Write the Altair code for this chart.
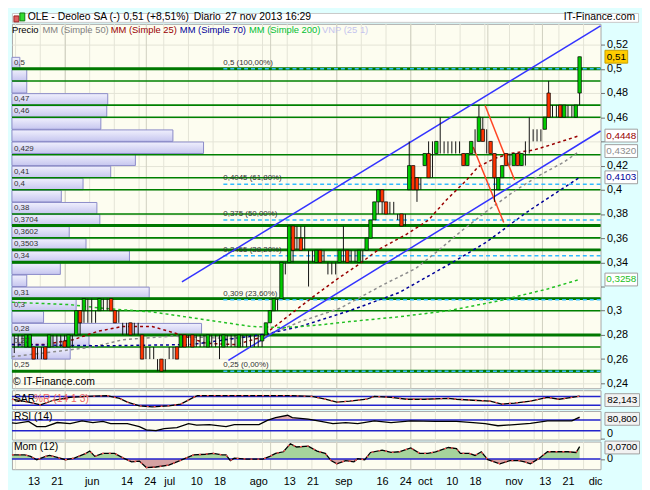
import altair as alt
import pandas as pd

FONT = "Liberation Sans"
W = 596
HEAD_W = 634
H_HEAD, H_MAIN, H_SAR, H_RSI, H_MOM = 9, 369, 19, 29, 28
X_DOMAIN = [-5.6, 146.4]
PRICE_DOMAIN = [0.2359, 0.5372]
SAR_DOMAIN = [-6, 123]
RSI_DOMAIN = [-2.5, 104]
MOM_DOMAIN = [-0.0576, 0.0985]

BG = "#e0ffff"
PLOT_BG = "#fdfdf0"
GRID = "#e4e4d6"
GRID_DARK = "#cfcfc0"
BORDER = "#a8a8a8"

# ---------------- candles (trading-day index, 0 = 13 May 2013) ----------------
days = list(range(-5, 142))
opens = [
    0.275, 0.275, 0.275, 0.27, 0.27, 0.27, 0.265, 0.265, 0.27, 0.27,
    0.275, 0.275, 0.275, 0.275, 0.27, 0.28, 0.28, 0.30, 0.30, 0.305,
    0.30, 0.295, 0.30, 0.305, 0.305, 0.31, 0.30, 0.29, 0.285, 0.285,
    0.29, 0.285, 0.285, 0.28, 0.265, 0.265, 0.265, 0.255, 0.26, 0.255,
    0.265, 0.265, 0.27, 0.27, 0.28, 0.275, 0.28, 0.275, 0.275, 0.275,
    0.27, 0.275, 0.275, 0.27, 0.27, 0.275, 0.275, 0.275, 0.27, 0.275,
    0.275, 0.275, 0.275, 0.275, 0.275, 0.28, 0.29, 0.30, 0.31, 0.31,
    0.335, 0.34, 0.37, 0.355, 0.36, 0.355, 0.34, 0.345, 0.34, 0.35,
    0.345, 0.335, 0.335, 0.335, 0.34, 0.345, 0.35, 0.345, 0.345, 0.34,
    0.345, 0.35, 0.36, 0.375, 0.39, 0.40, 0.39, 0.385, 0.385, 0.38,
    0.38, 0.375, 0.40, 0.42, 0.41, 0.405, 0.42, 0.43, 0.42, 0.43,
    0.435, 0.435, 0.435, 0.435, 0.435, 0.435, 0.43, 0.42, 0.43, 0.44,
    0.44, 0.45, 0.445, 0.44, 0.43, 0.40, 0.41, 0.43, 0.425, 0.42,
    0.43, 0.42, 0.425, 0.44, 0.445, 0.445, 0.445, 0.45, 0.48, 0.465,
    0.465, 0.47, 0.46, 0.465, 0.465, 0.46, 0.48,
]
highs = [
    0.28, 0.28, 0.28, 0.28, 0.28, 0.27, 0.27, 0.27, 0.27, 0.28,
    0.28, 0.28, 0.28, 0.28, 0.28, 0.28, 0.30, 0.30, 0.31, 0.31,
    0.31, 0.30, 0.31, 0.31, 0.31, 0.31, 0.30, 0.30, 0.29, 0.29,
    0.29, 0.29, 0.29, 0.28, 0.27, 0.27, 0.27, 0.26, 0.26, 0.26,
    0.27, 0.27, 0.27, 0.28, 0.28, 0.28, 0.28, 0.28, 0.28, 0.28,
    0.28, 0.28, 0.28, 0.28, 0.28, 0.28, 0.28, 0.28, 0.28, 0.28,
    0.28, 0.28, 0.28, 0.28, 0.28, 0.29, 0.30, 0.31, 0.31, 0.34,
    0.34, 0.37, 0.37, 0.37, 0.37, 0.37, 0.35, 0.35, 0.35, 0.35,
    0.35, 0.34, 0.34, 0.34, 0.35, 0.37, 0.35, 0.35, 0.35, 0.35,
    0.35, 0.36, 0.375, 0.39, 0.40, 0.40, 0.39, 0.39, 0.39, 0.38,
    0.38, 0.38, 0.44, 0.42, 0.41, 0.41, 0.43, 0.44, 0.44, 0.44,
    0.46, 0.44, 0.44, 0.44, 0.44, 0.44, 0.43, 0.43, 0.44, 0.45,
    0.47, 0.46, 0.45, 0.44, 0.43, 0.41, 0.42, 0.43, 0.43, 0.43,
    0.43, 0.43, 0.44, 0.46, 0.45, 0.45, 0.45, 0.46, 0.49, 0.47,
    0.47, 0.47, 0.47, 0.47, 0.47, 0.47, 0.51,
]
lows = [
    0.265, 0.27, 0.27, 0.27, 0.27, 0.26, 0.26, 0.26, 0.26, 0.27,
    0.27, 0.27, 0.27, 0.27, 0.27, 0.27, 0.28, 0.28, 0.29, 0.29,
    0.29, 0.29, 0.30, 0.30, 0.30, 0.30, 0.29, 0.29, 0.28, 0.28,
    0.28, 0.28, 0.28, 0.26, 0.26, 0.26, 0.26, 0.25, 0.25, 0.25,
    0.26, 0.26, 0.26, 0.27, 0.27, 0.27, 0.27, 0.27, 0.27, 0.27,
    0.27, 0.27, 0.27, 0.26, 0.27, 0.27, 0.27, 0.27, 0.27, 0.27,
    0.27, 0.27, 0.27, 0.27, 0.27, 0.28, 0.29, 0.30, 0.30, 0.31,
    0.33, 0.34, 0.34, 0.35, 0.35, 0.35, 0.32, 0.34, 0.34, 0.34,
    0.34, 0.33, 0.33, 0.33, 0.34, 0.34, 0.34, 0.34, 0.34, 0.34,
    0.34, 0.35, 0.36, 0.375, 0.38, 0.38, 0.38, 0.38, 0.38, 0.375,
    0.37, 0.37, 0.40, 0.40, 0.39, 0.40, 0.42, 0.41, 0.41, 0.43,
    0.43, 0.43, 0.43, 0.43, 0.43, 0.43, 0.42, 0.42, 0.43, 0.43,
    0.44, 0.44, 0.43, 0.43, 0.39, 0.40, 0.41, 0.42, 0.42, 0.42,
    0.42, 0.42, 0.42, 0.43, 0.44, 0.44, 0.44, 0.45, 0.46, 0.46,
    0.46, 0.46, 0.46, 0.46, 0.46, 0.46, 0.47,
]
closes = [
    0.275, 0.275, 0.275, 0.28, 0.28, 0.26, 0.265, 0.265, 0.26, 0.28,
    0.275, 0.275, 0.275, 0.27, 0.28, 0.28, 0.30, 0.29, 0.31, 0.305,
    0.30, 0.295, 0.31, 0.305, 0.305, 0.30, 0.29, 0.29, 0.285, 0.285,
    0.28, 0.285, 0.285, 0.26, 0.265, 0.265, 0.265, 0.255, 0.25, 0.255,
    0.265, 0.265, 0.26, 0.28, 0.27, 0.275, 0.27, 0.275, 0.275, 0.275,
    0.28, 0.275, 0.275, 0.27, 0.28, 0.275, 0.275, 0.275, 0.28, 0.275,
    0.275, 0.275, 0.275, 0.275, 0.28, 0.29, 0.30, 0.31, 0.31, 0.34,
    0.335, 0.37, 0.35, 0.355, 0.35, 0.355, 0.34, 0.345, 0.35, 0.34,
    0.345, 0.335, 0.335, 0.335, 0.35, 0.345, 0.34, 0.345, 0.345, 0.35,
    0.345, 0.36, 0.375, 0.39, 0.40, 0.39, 0.38, 0.385, 0.385, 0.38,
    0.37, 0.375, 0.42, 0.40, 0.40, 0.405, 0.43, 0.41, 0.42, 0.44,
    0.435, 0.435, 0.435, 0.435, 0.435, 0.435, 0.42, 0.43, 0.44, 0.44,
    0.46, 0.44, 0.445, 0.43, 0.41, 0.41, 0.42, 0.42, 0.425, 0.43,
    0.42, 0.43, 0.425, 0.44, 0.445, 0.445, 0.445, 0.46, 0.46, 0.465,
    0.465, 0.46, 0.47, 0.465, 0.465, 0.47, 0.51,
]

# ---------------- x axis (trading-day index -> label) ----------------
tick_days = [0, 6, 15, 24, 30, 35, 42, 48, 58, 66, 72, 80, 90, 96, 101, 108, 114, 124, 132, 138, 145]
tick_labels = ["13", "21", "jun", "14", "24", "jul", "10", "18", "ago", "13", "21",
               "sep", "16", "24", "oct", "10", "18", "nov", "13", "21", "dic"]

# ---------------- moving averages (read at sample days) ----------------
ma25_days = [-5.6, 2.6, 10.2, 16.6, 23, 30.6, 37, 44.6, 52.3, 58.7, 67.1, 73.2, 78.3, 83.4,
             89.3, 96.2, 102, 106.4, 111.5, 114.8, 119.1, 123.2, 129.3, 133.4, 141]
ma25_vals = [0.272, 0.272, 0.276, 0.283, 0.287, 0.287, 0.281, 0.273, 0.272, 0.278, 0.299, 0.314,
             0.326, 0.337, 0.351, 0.363, 0.375, 0.391, 0.407, 0.419, 0.426, 0.430, 0.433, 0.437, 0.4448]
ma50_days = [-5.6, 5.1, 15.3, 23, 35.7, 51, 60.5, 68.9, 79.1, 90, 98.7, 104.6, 110.5, 117.3,
             124.2, 130.1, 137, 141]
ma50_vals = [0.262, 0.266, 0.270, 0.276, 0.279, 0.277, 0.280, 0.291, 0.302, 0.321, 0.335, 0.350,
             0.366, 0.383, 0.399, 0.411, 0.423, 0.432]
ma70_days = [-5.6, 17.9, 40.8, 51.8, 60.5, 68.9, 81.6, 94.4, 107.1, 116.6, 127.6, 141]
ma70_vals = [0.272, 0.271, 0.272, 0.277, 0.281, 0.287, 0.300, 0.315, 0.338, 0.356, 0.382, 0.4103]
ma200_days = [-5.6, 9.4, 17.9, 30.6, 43.4, 56.1, 64.5, 73.2, 81.6, 94.4, 107.1, 119.9, 132.7, 141]
ma200_vals = [0.307, 0.305, 0.302, 0.299, 0.293, 0.287, 0.286, 0.288, 0.291, 0.295, 0.300,
              0.308, 0.318, 0.3258]

# ---------------- drawn lines ----------------
channel_upper_days = [38.3, 146.4]
channel_upper_vals = [0.3238, 0.5356]
channel_lower_days = [50.3, 146.4]
channel_lower_vals = [0.2589, 0.4486]
trend_a_days = [116.6, 124.2]
trend_a_vals = [0.4697, 0.4081]
trend_b_days = [113.5, 121.4]
trend_b_vals = [0.4354, 0.373]

# horizontal support / resistance levels
level_values = [0.50, 0.49, 0.47, 0.46, 0.429, 0.41, 0.40, 0.38, 0.3704, 0.3602, 0.3503,
                0.34, 0.31, 0.30, 0.28, 0.27, 0.25]
level_labels = ["0,5", "", "0,47", "0,46", "0,429", "0,41", "0,4", "0,38", "0,3704", "0,3602",
                "0,3503", "0,34", "0,31", "0,3", "0,28", "0,27", "0,25"]
major_levels = [0.50, 0.3704, 0.3503, 0.34, 0.31, 0.28, 0.25]

# fibonacci retracement
fib_start_day = 49
fib_values = [0.5, 0.4045, 0.375, 0.3455, 0.309, 0.25]
fib_labels = ["0,5 (100,00%)", "0,4045 (61,80%)", "0,375 (50,00%)", "0,3455 (38,20%)",
              "0,309 (23,60%)", "0,25 (0,00%)"]

# volume-by-price profile (bin lower edge, volume)
vp_low = [0.50, 0.49, 0.48, 0.47, 0.46, 0.45, 0.44, 0.43, 0.42, 0.41, 0.40, 0.39, 0.38,
          0.37, 0.36, 0.35, 0.34, 0.33, 0.32, 0.31, 0.30, 0.29, 0.28, 0.27, 0.26]
vp_vol = [8, 15, 15, 97, 96, 90, 163, 194, 125, 100, 72, 50, 86, 89, 58, 75, 119, 49, 15,
          139, 65, 32, 192, 78, 59]

# last-value tags
tag_series = ["ma25", "ma50", "ma70", "ma200"]
tag_values = [0.4448, 0.4320, 0.4103, 0.3258]
tag_texts = ["0,4448", "0,4320", "0,4103", "0,3258"]
last_price = 0.51
last_price_text = "0,51"

# ---------------- indicators ----------------
sar_days = [-5.6, -1.3, 1.8, 5.1, 9.4, 13.5, 18.9, 22.2, 24.2, 27.3, 30.6, 34.9, 38, 41.3, 42.3,
            47.7, 61.5, 66.8, 71.9, 75.3, 78.3, 81.6, 86, 88, 92.3, 96.4, 100.8, 107.1, 109.2,
            113.5, 117.9, 120.9, 124.2, 128.3, 132.7, 135.7, 139, 141]
sar_vals = [61, 41, 22, 54, 74, 80, 86, 67, 41, 15, 9, 15, 28, 74, 86, 86, 86, 86, 80, 61, 41,
            48, 61, 80, 74, 61, 61, 67, 61, 54, 48, 28, 35, 48, 74, 61, 74, 82.1]

rsi_days = [-5.6, -4.5, -1.3, 0.8, 3.1, 6.1, 9.4, 12.5, 15.3, 17.9, 19.9, 24.2, 27.3, 29.1, 31.6,
            33.7, 37, 40, 42.1, 45.4, 49.7, 51.8, 58.2, 60.5, 62.5, 65.6, 66.8, 70.9, 74.2,
            77.3, 80.6, 83.7, 88, 92.3, 97.4, 103.8, 109.2, 113.5, 116.6, 119.9, 124.2, 128.3,
            132.7, 139, 141]
rsi_vals = [60, 58, 65, 46, 46, 61, 57, 67, 61, 65, 57, 57, 46, 34, 31, 38, 42, 57, 51, 53, 46,
            53, 53, 70, 79, 88, 79, 74, 65, 57, 61, 57, 67, 61, 67, 65, 65, 61, 57, 49, 53, 58,
            67, 67, 80.8]

mom_days = [-5.6, -2.3, -0.8, 0.8, 3.1, 4.1, 6.1, 8.2, 10.5, 13.5, 14.5, 15.8, 17.9, 20.9,
            23.2, 25.3, 27.3, 29.1, 31.6, 34.9, 37, 39, 41.3, 44.4, 46.4, 48.7, 49.7, 50.8,
            51.8, 55, 59.2, 61, 62.5, 64.5, 66.3, 67.9, 70.9, 73.2, 75.3, 76.8, 78.3, 80.6,
            82.7, 83.7, 85.5, 87, 90, 92.3, 94.4, 97.4, 99.7, 101.8, 103.8, 107.1, 109.2,
            110.2, 112.5, 114, 115.6, 117.3, 120.4, 123, 125.3, 126.8, 128.3, 130.6, 132.7,
            134.7, 138, 140.1, 141]
mom_vals = [0.023, 0.023, 0.015, -0.004, 0.015, 0.020, 0.009, -0.004, 0.005, 0.032, 0.045,
            0.015, 0.032, 0.032, 0.005, -0.016, -0.012, -0.048, -0.045, -0.034, -0.016, 0.002,
            0.023, 0.027, 0.032, 0.023, 0.023, -0.009, 0.005, 0.0, 0.0, 0.015, 0.032, 0.041,
            0.086, 0.068, 0.073, 0.045, 0.032, -0.009, -0.027, -0.009, -0.016, 0.002, -0.004,
            0.037, 0.050, 0.037, 0.041, 0.063, 0.032, 0.032, 0.041, 0.065, 0.059, 0.032, 0.032,
            0.020, 0.041, -0.004, -0.027, -0.009, -0.009, -0.016, -0.027, 0.005, 0.041, 0.041,
            0.041, 0.037, 0.070]

# background grid (vertical)
grid_days = [round(-4.67 + 6.378 * k, 2) for k in range(24)]
dark_grid_days = [8.2, 29.1, 61.2, 78.3, 97.4, 117.3, 131.4]

# ---------------- styles ----------------
MA_SERIES = ["ma25", "ma50", "ma70", "ma200"]
MA_COLORS = ["#990000", "#8c8c8c", "#000099", "#22c022"]
MA_SCALE = alt.Scale(domain=MA_SERIES, range=MA_COLORS)

XS = alt.Scale(domain=X_DOMAIN, nice=False, zero=False, padding=0)
YS = alt.Scale(domain=PRICE_DOMAIN, nice=False, zero=False, padding=0)
y_ticks = [round(0.24 + 0.02 * k, 2) for k in range(15)]
YAX = alt.Axis(orient="right", values=y_ticks,
               labelExpr="datum.value == 0.44 || datum.value == 0.32 ? '' : "
                         "replace(format(datum.value, '.2~f'), '.', ',')",
               grid=True, gridColor=GRID, domain=False, tickSize=4, tickColor="#707070",
               labelFont=FONT, labelFontSize=11, labelColor="black", labelPadding=2, title=None)


def X(f):
    return alt.X(f"{f}:Q", scale=XS, axis=None)


def Y(f):
    return alt.Y(f"{f}:Q", scale=YS, axis=YAX)


def box_path(w, h):
    k = round(h / w, 3)
    return f"M-1,-{k}L1,-{k}L1,{k}L-1,{k}Z"


# ---------------- main panel ----------------
grid_df = pd.DataFrame({"day": grid_days})
dgrid_df = pd.DataFrame({"day": dark_grid_days})


def vgrid(Xf):
    return [
        alt.Chart(grid_df).mark_rule(color=GRID, strokeWidth=1).encode(x=Xf("day")),
        alt.Chart(dgrid_df).mark_rule(color=GRID_DARK, strokeWidth=1).encode(x=Xf("day")),
    ]


main_grid = alt.layer(*vgrid(X))

vp_df = pd.DataFrame({"low": vp_low, "vol": vp_vol})
vp_fill = alt.LinearGradient(
    gradient="linear", x1=0, x2=0, y1=0, y2=1,
    stops=[alt.GradientStop(color="#f0f0fd", offset=0),
           alt.GradientStop(color="#c6c6ef", offset=1)])
vp_chart = alt.Chart(vp_df).transform_calculate(
    high="datum.low + 0.0095", base="0"
).mark_rect(fill=vp_fill, stroke="#8a8ac8", strokeWidth=1).encode(
    x=alt.X("base:Q", scale=alt.Scale(domain=[0, W], nice=False, zero=False, padding=0), axis=None),
    x2="vol:Q",
    y=Y("low"),
    y2="high:Q",
)

lv_df = pd.DataFrame({"level": level_values, "label": level_labels})
lines_thin = alt.Chart(lv_df).mark_rule(color="#008000", strokeWidth=1.6).encode(y=Y("level"))
lines_thick = alt.Chart(pd.DataFrame({"level": major_levels})).mark_rule(
    color="#007800", strokeWidth=3).encode(y=Y("level"))

fib_df = pd.DataFrame({"value": fib_values, "label": fib_labels,
                       "start": fib_start_day, "end": X_DOMAIN[1]})
fib_lines = alt.Chart(fib_df).mark_rule(color="#33bbff", strokeWidth=1.5, strokeDash=[4, 3]).encode(
    x=X("start"), x2="end:Q", y=Y("value"))
fib_text = alt.Chart(fib_df).mark_text(
    align="left", baseline="bottom", dy=-2, font=FONT, fontSize=8, color="#333333"
).encode(x=X("start"), y=Y("value"), text="label:N")

ma_df = pd.concat([
    pd.DataFrame({"day": ma25_days, "value": ma25_vals, "series": "ma25"}),
    pd.DataFrame({"day": ma50_days, "value": ma50_vals, "series": "ma50"}),
    pd.DataFrame({"day": ma70_days, "value": ma70_vals, "series": "ma70"}),
    pd.DataFrame({"day": ma200_days, "value": ma200_vals, "series": "ma200"}),
])
ma_lines = alt.Chart(ma_df).mark_line(strokeDash=[3, 3], strokeWidth=1.5).encode(
    x=X("day"), y=Y("value"),
    color=alt.Color("series:N", scale=MA_SCALE, legend=None), detail="series:N")

chan_df = pd.concat([
    pd.DataFrame({"day": channel_upper_days, "value": channel_upper_vals, "seg": "up"}),
    pd.DataFrame({"day": channel_lower_days, "value": channel_lower_vals, "seg": "low"}),
])
chan_lines = alt.Chart(chan_df).mark_line(color="#3333ff", strokeWidth=1.5).encode(
    x=X("day"), y=Y("value"), detail="seg:N")
trend_df = pd.concat([
    pd.DataFrame({"day": trend_a_days, "value": trend_a_vals, "seg": "a"}),
    pd.DataFrame({"day": trend_b_days, "value": trend_b_vals, "seg": "b"}),
])
trend_lines = alt.Chart(trend_df).mark_line(color="#ff4422", strokeWidth=1.5).encode(
    x=X("day"), y=Y("value"), detail="seg:N")

cd = pd.DataFrame({"day": days, "open": opens, "high": highs, "low": lows, "close": closes})
wicks = alt.Chart(cd).mark_rule(color="#111111", strokeWidth=1).encode(
    x=X("day"), y=Y("low"), y2="high:Q")
bodies = alt.Chart(cd).transform_filter("datum.open != datum.close").transform_calculate(
    dir="datum.close > datum.open ? 'up' : 'down'"
).mark_bar(size=3.5, stroke="black", strokeWidth=0.7).encode(
    x=X("day"), y=Y("open"), y2="close:Q",
    fill=alt.Fill("dir:N", scale=alt.Scale(domain=["up", "down"], range=["#00cc00", "#ff3300"]),
                  legend=None))

level_text = alt.Chart(lv_df).transform_filter("datum.label != ''").mark_text(
    align="left", baseline="bottom", dy=-2, font=FONT, fontSize=8, color="#333333"
).encode(x=alt.value(2), y=Y("level"), text="label:N")

legend_items = [("Precio", "black", 0), ("MM (Simple 50)", "#808080", 31),
                ("MM (Simple 25)", "#990000", 100), ("MM (Simple 70)", "#000099", 170),
                ("MM (Simple 200)", "#00c033", 240), ("VNP (25 1)", "#c4c4ee", 314)]
legend_layers = [
    alt.Chart(pd.DataFrame({"t": [txt]})).mark_text(
        align="left", baseline="middle", font=FONT, fontSize=9.5, color=col
    ).encode(x=alt.value(xp), y=alt.value(6), text="t:N")
    for txt, col, xp in legend_items
]
copyright_txt = alt.Chart(pd.DataFrame({"t": ["\u00a9 IT-Finance.com"]})).mark_text(
    align="left", baseline="middle", font=FONT, fontSize=10.5, color="black"
).encode(x=alt.value(1), y=alt.value(H_MAIN - 6), text="t:N")

tag_df = pd.DataFrame({"value": tag_values, "label": tag_texts, "series": tag_series})
tag_boxes = alt.Chart(tag_df).mark_point(
    shape=box_path(33, 13), size=33 ** 2, filled=True, fill="white", stroke="#a0a0a0",
    strokeWidth=1, opacity=1, fillOpacity=1
).encode(x=alt.value(617), y=Y("value"))
tag_text = alt.Chart(tag_df).mark_text(font=FONT, fontSize=10, align="center", baseline="middle").encode(
    x=alt.value(617), y=Y("value"), text="label:N",
    color=alt.Color("series:N", scale=MA_SCALE, legend=None))
price_df = pd.DataFrame({"value": [last_price], "label": [last_price_text]})
price_box = alt.Chart(price_df).mark_point(
    shape=box_path(23, 13), size=23 ** 2, filled=True, fill="#ffcc00", stroke="#c8a000",
    strokeWidth=1, opacity=1, fillOpacity=1
).encode(x=alt.value(612), y=Y("value"))
price_text = alt.Chart(price_df).mark_text(font=FONT, fontSize=10, color="black").encode(
    x=alt.value(612), y=Y("value"), text="label:N")

main_rest = alt.layer(
    lines_thin, lines_thick, fib_lines, fib_text, ma_lines, chan_lines, trend_lines,
    wicks, bodies, level_text, *legend_layers, copyright_txt,
    tag_boxes, tag_text, price_box, price_text,
)
main = alt.layer(main_grid, vp_chart, main_rest).resolve_scale(x="independent").properties(
    width=W, height=H_MAIN, view=alt.ViewBackground(fill=PLOT_BG, stroke=BORDER))

# ---------------- sub panels ----------------
def panel_tag(text, ypx):
    d = pd.DataFrame({"t": [text]})
    box = alt.Chart(d).mark_point(
        shape=box_path(35, 13), size=35 ** 2, filled=True, fill="#f2f2f2", stroke="#a0a0a0",
        strokeWidth=1, opacity=1, fillOpacity=1).encode(x=alt.value(618), y=alt.value(ypx))
    txt = alt.Chart(d).mark_text(font=FONT, fontSize=10, color="black").encode(
        x=alt.value(618), y=alt.value(ypx), text="t:N")
    return [box, txt]


def panel_label(parts, ypx):
    out = []
    for txt, col, xp in parts:
        out.append(alt.Chart(pd.DataFrame({"t": [txt]})).mark_text(
            align="left", baseline="middle", font=FONT, fontSize=10.5, color=col
        ).encode(x=alt.value(xp), y=alt.value(ypx), text="t:N"))
    return out


# SAR / oscillator
SYS = alt.Scale(domain=SAR_DOMAIN, nice=False, zero=False, padding=0)
sar_df = pd.DataFrame({"day": sar_days, "value": sar_vals})
sar_ref = pd.DataFrame({"level": [80, 20]})
sar = alt.layer(
    *vgrid(X),
    alt.Chart(sar_ref).mark_rule(color="#2222cc", strokeWidth=1.5).encode(
        y=alt.Y("level:Q", scale=SYS, axis=None)),
    alt.Chart(sar_df).mark_line(color="black", strokeWidth=1.3).encode(
        x=X("day"), y=alt.Y("value:Q", scale=SYS, axis=None)),
    alt.Chart(sar_df).mark_line(color="#ff5555", strokeWidth=1.3, strokeDash=[2, 5]).encode(
        x=X("day"), y=alt.Y("value:Q", scale=SYS, axis=None)),
    *panel_label([("SAR", "black", 2), ("%R (14 1 3)", "#ee6666", 22)], 9),
    *panel_tag("82,143", 10),
).properties(width=W, height=H_SAR, view=alt.ViewBackground(fill=PLOT_BG, stroke=BORDER))

# RSI
RYS = alt.Scale(domain=RSI_DOMAIN, nice=False, zero=False, padding=0)
RAX = alt.Axis(orient="right", values=[0], labelExpr="'0'", grid=False, domain=False, tickSize=4,
               tickColor="#707070", labelFont=FONT, labelFontSize=11, labelColor="black",
               labelPadding=2, labelBaseline="bottom", title=None)
rsi_df = pd.DataFrame({"day": rsi_days, "value": rsi_vals})
rsi_ref = pd.DataFrame({"level": [70, 30]})
rsi = alt.layer(
    *vgrid(X),
    alt.Chart(rsi_df).transform_calculate(hi="max(datum.value, 70)", base="70").mark_area(
        color="#dfa5a5", opacity=0.9).encode(
        x=X("day"), y=alt.Y("hi:Q", scale=RYS, axis=RAX), y2="base:Q"),
    alt.Chart(rsi_ref).mark_rule(color="#2222cc", strokeWidth=1.5).encode(
        y=alt.Y("level:Q", scale=RYS, axis=RAX)),
    alt.Chart(rsi_df).mark_line(color="black", strokeWidth=1.3).encode(
        x=X("day"), y=alt.Y("value:Q", scale=RYS, axis=RAX)),
    *panel_label([("RSI (14)", "black", 2)], 6),
    *panel_tag("80,800", 8),
).properties(width=W, height=H_RSI, view=alt.ViewBackground(fill=PLOT_BG, stroke=BORDER))

# Momentum (with the date axis)
label_expr = "".join(f"datum.value == {d} ? '{t}' : " for d, t in zip(tick_days, tick_labels)) + "''"
BAX = alt.Axis(values=tick_days, labelExpr=label_expr, grid=False, domain=False, ticks=False,
               labelFont=FONT, labelFontSize=11, labelColor="black", labelPadding=6,
               labelFlush=False, labelOverlap=False, title=None)
XB = lambda f: alt.X(f"{f}:Q", scale=XS, axis=BAX)
MYS = alt.Scale(domain=MOM_DOMAIN, nice=False, zero=False, padding=0)
MAXIS = alt.Axis(orient="right", values=[0], labelExpr="'0'", grid=False, domain=False, tickSize=4,
                 tickColor="#707070", labelFont=FONT, labelFontSize=11, labelColor="black",
                 labelPadding=2, title=None)
mom_df = pd.DataFrame({"day": mom_days, "value": mom_vals})
mom = alt.layer(
    *vgrid(XB),
    alt.Chart(mom_df).transform_calculate(pos="max(datum.value, 0)", base="0").mark_area(
        color="#a6d49c").encode(x=XB("day"), y=alt.Y("pos:Q", scale=MYS, axis=MAXIS), y2="base:Q"),
    alt.Chart(mom_df).transform_calculate(neg="min(datum.value, 0)", base="0").mark_area(
        color="#d6a2a2").encode(x=XB("day"), y=alt.Y("neg:Q", scale=MYS, axis=MAXIS), y2="base:Q"),
    alt.Chart(pd.DataFrame({"level": [0]})).mark_rule(color="#2222cc", strokeWidth=1.5).encode(
        y=alt.Y("level:Q", scale=MYS, axis=MAXIS)),
    alt.Chart(mom_df).mark_line(color="black", strokeWidth=1.3).encode(
        x=XB("day"), y=alt.Y("value:Q", scale=MYS, axis=MAXIS)),
    alt.Chart(mom_df).mark_line(color="#ff5555", strokeWidth=1.3, strokeDash=[2, 5]).encode(
        x=XB("day"), y=alt.Y("value:Q", scale=MYS, axis=MAXIS)),
    *panel_label([("Mom (12)", "black", 2)], 6),
    *panel_tag("0,0700", 6),
).properties(width=W, height=H_MOM, view=alt.ViewBackground(fill=PLOT_BG, stroke=BORDER))

# ---------------- header ----------------
head_items = [("OLE - Deoleo SA (-)", 16, "left"), ("0,51 (+8,51%)", 113, "left"),
              ("Diario", 184, "left"), ("27 nov 2013 16:29", 216, "left"),
              ("IT-Finance.com", 631, "right")]
head_layers = [
    alt.Chart(pd.DataFrame({"t": [txt]})).mark_text(
        align=al, baseline="middle", font=FONT, fontSize=10.5, color="black"
    ).encode(x=alt.value(xp), y=alt.value(4), text="t:N")
    for txt, xp, al in head_items
]
icon = pd.DataFrame({"k": [0]})
head_layers += [
    alt.Chart(icon).mark_rect(fill="#e06060", stroke="#992222", strokeWidth=1).encode(
        x=alt.value(2), x2=alt.value(7), y=alt.value(3), y2=alt.value(9)),
    alt.Chart(icon).mark_rect(fill="#33dd33", stroke="#117711", strokeWidth=1).encode(
        x=alt.value(8), x2=alt.value(13), y=alt.value(0), y2=alt.value(8)),
]
header = alt.layer(*head_layers).properties(
    width=HEAD_W, height=H_HEAD, view=alt.ViewBackground(fill="white", stroke="#c8c8c8"))

chart = alt.vconcat(
    header, main, sar, rsi, mom, spacing=2, padding=0, background=BG, bounds="flush"
).resolve_scale(x="independent", y="independent").configure_view(strokeWidth=1)

chart.save("out.html", embed_options={"renderer": "svg", "actions": False})
